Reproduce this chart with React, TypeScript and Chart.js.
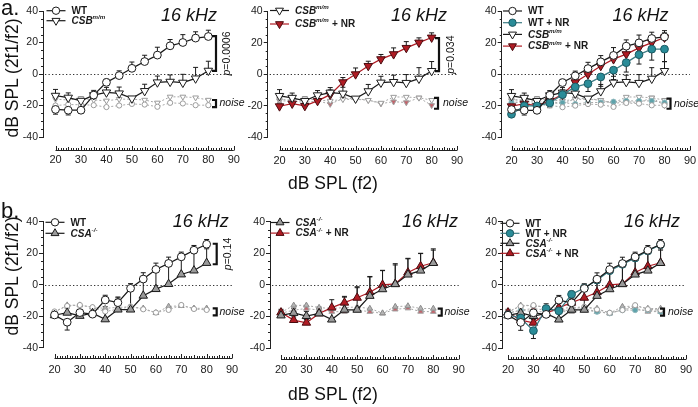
import React, { useEffect, useRef } from 'react';
import { Chart, registerables } from 'chart.js';
Chart.register(...registerables);

const FONT = '"Liberation Sans", Arial, Helvetica, sans-serif';

// ---------- data ----------
const levels = [20, 25, 30, 35, 40, 45, 50, 55, 60, 65, 70, 75, 80];
const yTicks = [-40, -20, 0, 20, 40];
const xTicks = [20, 30, 40, 50, 60, 70, 80, 90];

// panel row a (CSB)
const wtA = [-22.5, -23, -23, -13.4, -5.3, -1, 3.6, 7.9, 12, 17.9, 20, 22.8, 23.8];
const wtAErr = [-3, -3, -2, 2, 2, 3, 4, 4, 5, 4, 5, 4, 4];
const csbA = [-13.8, -15, -17, -13.4, -11.7, -12.3, -15.5, -10.8, -5.3, -4.9, -5.5, -2.8, 2.1];
const csbAErr = [4, 3, 2.5, 3, 3.2, 4, 1, 4.3, 4, 4.3, 5.3, 7, 6];
const csbNrA = [-20.4, -18.7, -20.2, -17, -13, -5.1, 0, 5.3, 9.6, 12.8, 16.8, 20.2, 23.4];
const csbNrAErr = [2, 3, 2, 3, 3, 3, 4, 3, 3, 4, 4, 3, 3];
const wtNrA = [-25.5, -20.2, -20.2, -18.3, -13, -8.1, -6, -1.7, 2.6, 7.4, 12.5, 16, 16];
const wtNrAErr = [-2, -3, -3, -3, -3, -4, -5, -6, -6, -6, -6, -7, -8];

const wtNoiseA = [-20, -19.4, -19.5, -19.8, -21, -20, -19, -19.4, -20.8, -18.3, -18.7, -19.8, -19.8];
const csbNoiseA = [-16, -16.5, -15.5, -16.5, -17, -16, -16, -16.5, -18.3, -14.5, -14.5, -15, -16.5];
const csbNrNoiseA = [-17, -17, -18, -17, -19, -15.5, -15.5, -16.5, -18.7, -17.5, -18, -15, -19.8];
const wtNrNoiseA = [-18, -18, -19, -19, -18, -19, -18, -18, -17.5, -17, -17, -17, -18];

// panel row b (CSA)
const wtB = [-19.2, -23.8, -17.7, -18.7, -9.7, -11.4, -2.3, 3.6, 9.7, 13.5, 17.7, 21.9, 25.7];
const wtBErr = [2, -5, 2, 2, 3, 3, 3, 4, 4, 4, 3, 3, 3];
const csaB = [-19.4, -17.8, -19.8, -18.1, -22, -15.8, -15.8, -7, -2.8, 0.4, 6.5, 9, 13.8];
const csaBErr = [3, 3, 3, 4, 8, 8, 14, 12, 12, 13, 10, 11, 9];
const csaNrB = [-17.5, -22.3, -24, -18.1, -14.4, -11.3, -8.2, -4.7, 0, 0.6, 7.8, 11.8, 14];
const csaNrBErr = [2, 2, 2, 3, 5, 4, 7, 10, 9, 12, 9, 8, 8];
const wtNrB = [-19, -21, -29, -15, -16.5, -6, -2, 3, 9, 13, 17, 21.5, 25.5];
const wtNrBErr = [1, -2, -5, 3, 3, 2, 2, 2, 2, 2, 2, 2, 2];

const wtNoiseB = [-17, -13.5, -12.9, -14.3, -17, -15.6, -13.9, -15.6, -17.7, -16, -12.9, -15.4, -16];
const csaNoiseB = [-17.5, -13, -13, -14.4, -15, -14.4, -14, -15, -17.9, -13.8, -13.4, -15, -15];
const csaNrNoiseB = [-18, -16, -15, -16, -17, -17, -16, -17, -18.1, -15.5, -14.8, -16.9, -17];
const wtNrNoiseB = [-18, -16, -17, -17, -16, -16, -15, -17, -18, -16, -16, -16, -17];

// ---------- styles ----------
type Part = { t: string; i?: boolean; sup?: boolean };
const STY: any = {
  wt: { shape: 'circle', fill: '#ffffff', stroke: '#1a1a1a', line: '#1a1a1a', label: [{ t: 'WT' }] },
  wtNr: { shape: 'circle', fill: '#2a8c98', stroke: '#1d5a62', line: '#3d7c84', label: [{ t: 'WT + NR' }] },
  csb: { shape: 'triDown', fill: '#ffffff', stroke: '#1a1a1a', line: '#1a1a1a', label: [{ t: 'CSB', i: true }, { t: 'm/m', i: true, sup: true }] },
  csbNr: { shape: 'triDown', fill: '#b01c24', stroke: '#4a0c10', line: '#b01c24', label: [{ t: 'CSB', i: true }, { t: 'm/m', i: true, sup: true }, { t: ' + NR' }] },
  csa: { shape: 'triUp', fill: '#9a9a9a', stroke: '#1a1a1a', line: '#1a1a1a', label: [{ t: 'CSA', i: true }, { t: '-/-', i: true, sup: true }] },
  csaNr: { shape: 'triUp', fill: '#b01c24', stroke: '#4a0c10', line: '#b01c24', label: [{ t: 'CSA', i: true }, { t: '-/-', i: true, sup: true }, { t: ' + NR' }] },
};
const NOISE: any = {
  wt: { shape: 'circle', fill: '#ffffff', stroke: '#9b9b9b' },
  wtNr: { shape: 'circle', fill: '#5fa3ab', stroke: '#8fb7bc' },
  csb: { shape: 'triDown', fill: '#ffffff', stroke: '#9b9b9b' },
  csbNr: { shape: 'triDown', fill: '#c4636b', stroke: '#a0a0a0' },
  csa: { shape: 'triUp', fill: '#b5b5b5', stroke: '#8c8c8c' },
  csaNr: { shape: 'triUp', fill: '#c4636b', stroke: '#a0a0a0' },
};

const PANELS: any[] = [
  {
    id: 'a1', canvas: [15, 0, 230, 180], axisX: 43, top: 11, bottom: 137, x20: 55.5, x90: 233.8, xGap: 12.5, labelPad: 16.4,
    series: [{ k: 'wt', v: wtA, e: wtAErr }, { k: 'csb', v: csbA, e: csbAErr }],
    noise: [{ k: 'wt', v: wtNoiseA }, { k: 'csb', v: csbNoiseA }],
    legend: { x: 46.5, y: 10.7, dy: 10 }, kHz: [189, 15.5],
    p: { x: 216, from: 24, to: 2, text: '0.0006', tx: 227.5 },
    nz: { x: 216, from: -16.5, to: -21, tx: 219.5 },
  },
  {
    id: 'a2', canvas: [240, 0, 230, 180], axisX: 267.7, top: 11.5, bottom: 137, x20: 279.5, x90: 457, xGap: 13, labelPad: 17,
    series: [{ k: 'csb', v: csbA, e: csbAErr }, { k: 'csbNr', v: csbNrA, e: csbNrAErr }],
    noise: [{ k: 'csb', v: csbNoiseA }, { k: 'csbNr', v: csbNrNoiseA }],
    legend: { x: 270, y: 10.5, dy: 13.5 }, kHz: [419, 15.5],
    p: { x: 439, from: 23, to: 2, text: '0.034', tx: 451.5 },
    nz: { x: 438, from: -15, to: -22, tx: 443 },
  },
  {
    id: 'a3', canvas: [470, 0, 228, 180], axisX: 501.7, top: 11.5, bottom: 137, x20: 511.5, x90: 690, xGap: 13, labelPad: 17,
    series: [{ k: 'wt', v: wtA, e: wtAErr }, { k: 'wtNr', v: wtNrA, e: wtNrAErr }, { k: 'csb', v: csbA, e: csbAErr }, { k: 'csbNr', v: csbNrA, e: csbNrAErr }],
    noise: [{ k: 'wt', v: wtNoiseA }, { k: 'wtNr', v: wtNrNoiseA }, { k: 'csb', v: csbNoiseA }, { k: 'csbNr', v: csbNrNoiseA }],
    legend: { x: 503, y: 11, dy: 11.7 }, kHz: [640.5, 15.5],
    nz: { x: 670.5, from: -15.5, to: -22, tx: 674 },
  },
  {
    id: 'b1', canvas: [15, 200, 230, 185], axisX: 43, top: 221.7, bottom: 347.7, x20: 54.5, x90: 232, xGap: 10.5, labelPad: 15.7,
    series: [{ k: 'wt', v: wtB, e: wtBErr }, { k: 'csa', v: csaB, e: csaBErr }],
    noise: [{ k: 'wt', v: wtNoiseB }, { k: 'csa', v: csaNoiseB }],
    legend: { x: 45.5, y: 222.3, dy: 11 }, kHz: [200.7, 221.5],
    p: { x: 216.7, from: 26, to: 13, text: '0.14', tx: 228 },
    nz: { x: 216.7, from: -15, to: -19.5, tx: 219.5 },
  },
  {
    id: 'b2', canvas: [240, 200, 230, 185], axisX: 270, top: 221.7, bottom: 348, x20: 281, x90: 458.7, xGap: 11, labelPad: 15.7,
    series: [{ k: 'csa', v: csaB, e: csaBErr }, { k: 'csaNr', v: csaNrB, e: csaNrBErr }],
    noise: [{ k: 'csa', v: csaNoiseB }, { k: 'csaNr', v: csaNrNoiseB }],
    legend: { x: 270.5, y: 222.5, dy: 10.6 }, kHz: [430, 221.5],
    nz: { x: 441.7, from: -15, to: -19.5, tx: 444.5 },
  },
  {
    id: 'b3', canvas: [470, 200, 228, 185], axisX: 502, top: 221.7, bottom: 348, x20: 508, x90: 686, xGap: 11, labelPad: 15.7,
    series: [{ k: 'wt', v: wtB, e: wtBErr }, { k: 'wtNr', v: wtNrB, e: wtNrBErr }, { k: 'csa', v: csaB, e: csaBErr }, { k: 'csaNr', v: csaNrB, e: csaNrBErr }],
    noise: [{ k: 'wt', v: wtNoiseB }, { k: 'wtNr', v: wtNrNoiseB }, { k: 'csa', v: csaNoiseB }, { k: 'csaNr', v: csaNrNoiseB }],
    legend: { x: 500.5, y: 223.3, dy: 10 }, kHz: [652, 221.5],
    nz: { x: 664, from: -15, to: -19.5, tx: 668 },
  },
];

// ---------- drawing helpers ----------
function drawMarker(ctx: CanvasRenderingContext2D, shape: string, x: number, y: number, r: number, fill: string, stroke: string) {
  ctx.beginPath();
  if (shape === 'circle') {
    ctx.arc(x, y, r, 0, Math.PI * 2);
  } else {
    const dir = shape === 'triDown' ? 1 : -1;
    const R = r;
    ctx.moveTo(x, y + dir * R);
    ctx.lineTo(x + R * Math.sin(Math.PI * 2 / 3), y - dir * R / 2);
    ctx.lineTo(x - R * Math.sin(Math.PI * 2 / 3), y - dir * R / 2);
    ctx.closePath();
  }
  ctx.fillStyle = fill;
  ctx.fill();
  ctx.lineWidth = 1;
  ctx.strokeStyle = stroke;
  ctx.stroke();
}

function drawRich(ctx: CanvasRenderingContext2D, parts: Part[], x: number, y: number, size: number) {
  let cx = x;
  ctx.textBaseline = 'middle';
  ctx.textAlign = 'left';
  ctx.fillStyle = '#1a1a1a';
  for (const p of parts) {
    const fs = p.sup ? size * 0.62 : size;
    ctx.font = `${p.i ? 'italic ' : ''}bold ${fs}px ${FONT}`;
    ctx.fillText(p.t, cx, p.sup ? y - size * 0.38 : y);
    cx += ctx.measureText(p.t).width + (p.sup ? 0.5 : 0);
  }
}

function bracket(ctx: CanvasRenderingContext2D, x: number, y1: number, y2: number) {
  ctx.save();
  ctx.strokeStyle = '#111';
  ctx.lineWidth = 2.2;
  ctx.beginPath();
  ctx.moveTo(x - 4, y1);
  ctx.lineTo(x, y1);
  ctx.lineTo(x, y2);
  ctx.lineTo(x - 4, y2);
  ctx.stroke();
  ctx.restore();
}

function makePlugin(cfg: any) {
  const CL = cfg.canvas[0];
  const CT = cfg.canvas[1];
  const X = (v: number) => v - CL;
  const Y = (v: number) => v - CT;
  return {
    id: 'deco_' + cfg.id,
    beforeDatasetsDraw(chart: any) {
      const ctx = chart.ctx as CanvasRenderingContext2D;
      const xs = chart.scales.x;
      const ys = chart.scales.y;
      const ca = chart.chartArea;
      ctx.save();
      // zero reference line
      ctx.strokeStyle = '#333';
      ctx.lineWidth = 1;
      ctx.setLineDash([1.3, 2.2]);
      const y0 = Math.round(ys.getPixelForValue(0)) + 0.5;
      ctx.beginPath();
      ctx.moveTo(ca.left + 2, y0);
      ctx.lineTo(xs.getPixelForValue(90), y0);
      ctx.stroke();
      ctx.setLineDash([]);
      // error bars
      chart.data.datasets.forEach((ds: any, di: number) => {
        if (!ds.errs) return;
        const meta = chart.getDatasetMeta(di);
        ctx.strokeStyle = ds.errColor;
        ctx.lineWidth = 1;
        meta.data.forEach((el: any, i: number) => {
          const e = ds.errs[i];
          if (!e) return;
          const yy = ys.getPixelForValue(ds.data[i].y + e);
          ctx.beginPath();
          ctx.moveTo(el.x, el.y);
          ctx.lineTo(el.x, yy);
          ctx.moveTo(el.x - 2.5, yy);
          ctx.lineTo(el.x + 2.5, yy);
          ctx.stroke();
        });
      });
      ctx.restore();
    },
    afterDraw(chart: any) {
      const ctx = chart.ctx as CanvasRenderingContext2D;
      const xs = chart.scales.x;
      const ys = chart.scales.y;
      const ca = chart.chartArea;
      ctx.save();
      ctx.strokeStyle = '#222';
      ctx.lineWidth = 1;
      // minor y ticks
      ctx.beginPath();
      for (let v = -40; v <= 40; v += 5) {
        if (v % 20 === 0) continue;
        const yy = Math.round(ys.getPixelForValue(v)) + 0.5;
        ctx.moveTo(ca.left - 2, yy);
        ctx.lineTo(ca.left, yy);
      }
      ctx.stroke();
      // detached x axis
      const yl = Math.round(ca.bottom + cfg.xGap) + 0.5;
      ctx.beginPath();
      ctx.moveTo(xs.getPixelForValue(20), yl);
      ctx.lineTo(xs.getPixelForValue(90), yl);
      for (let v = 20; v <= 90; v += 1) {
        const xx = Math.round(xs.getPixelForValue(v)) + 0.5;
        const len = v % 10 === 0 ? 4.5 : v % 5 === 0 ? 3.5 : 2.5;
        ctx.moveTo(xx, yl);
        ctx.lineTo(xx, yl - len);
      }
      ctx.stroke();

      // legend
      const lg = cfg.legend;
      cfg.series.forEach((s: any, i: number) => {
        const st = STY[s.k];
        const ly = Y(lg.y + i * lg.dy);
        const lx = X(lg.x);
        ctx.strokeStyle = st.line;
        ctx.lineWidth = 1.2;
        ctx.beginPath();
        ctx.moveTo(lx, ly);
        ctx.lineTo(lx + 19, ly);
        ctx.stroke();
        drawMarker(ctx, st.shape, lx + 9.5, ly, st.shape === 'circle' ? 3.7 : 4.6, st.fill, st.stroke);
        drawRich(ctx, st.label, lx + 25, ly + 0.5, 10);
      });

      // 16 kHz
      ctx.fillStyle = '#111';
      ctx.font = `italic 18px ${FONT}`;
      ctx.textAlign = 'center';
      ctx.textBaseline = 'middle';
      ctx.fillText('16 kHz', X(cfg.kHz[0]), Y(cfg.kHz[1]));

      // p-value bracket
      if (cfg.p) {
        const p = cfg.p;
        const y1 = ys.getPixelForValue(p.from);
        const y2 = ys.getPixelForValue(p.to);
        bracket(ctx, X(p.x), y1, y2);
        ctx.save();
        ctx.translate(X(p.tx), (y1 + y2) / 2);
        ctx.rotate(-Math.PI / 2);
        ctx.fillStyle = '#111';
        ctx.textBaseline = 'middle';
        ctx.font = `italic 10.5px ${FONT}`;
        const w1 = ctx.measureText('p').width;
        ctx.font = `10.5px ${FONT}`;
        const t2 = '=' + p.text;
        const w2 = ctx.measureText(t2).width;
        const start = -(w1 + w2) / 2;
        ctx.textAlign = 'left';
        ctx.font = `italic 10.5px ${FONT}`;
        ctx.fillText('p', start, 0);
        ctx.font = `10.5px ${FONT}`;
        ctx.fillText(t2, start + w1, 0);
        ctx.restore();
      }
      // noise bracket
      if (cfg.nz) {
        const n = cfg.nz;
        const y1 = ys.getPixelForValue(n.from);
        const y2 = ys.getPixelForValue(n.to);
        bracket(ctx, X(n.x), y1, y2);
        ctx.fillStyle = '#111';
        ctx.font = `italic 10.5px ${FONT}`;
        ctx.textAlign = 'left';
        ctx.textBaseline = 'middle';
        ctx.fillText('noise', X(n.tx), (y1 + y2) / 2);
      }
      ctx.restore();
    },
  };
}

function buildConfig(cfg: any) {
  const [CL, CT, CW, CH] = cfg.canvas;
  const yW = 20;
  const xH = 35;
  const ppu = (cfg.x90 - cfg.x20) / 70;
  const xmin = 20 - (cfg.x20 - cfg.axisX) / ppu;
  const datasets: any[] = [];
  cfg.series.forEach((s: any, i: number) => {
    const st = STY[s.k];
    datasets.push({
      data: levels.map((x, j) => ({ x, y: s.v[j] })),
      borderColor: st.line,
      borderWidth: 1.25,
      backgroundColor: st.fill,
      pointStyle: st.shape === 'circle' ? 'circle' : 'triangle',
      rotation: st.shape === 'triDown' ? 180 : 0,
      pointRadius: st.shape === 'circle' ? 3.9 : 4.9,
      pointBackgroundColor: st.fill,
      pointBorderColor: st.stroke,
      pointBorderWidth: 1,
      errs: s.e,
      errColor: '#1a1a1a',
      order: i,
      tension: 0,
    });
  });
  cfg.noise.forEach((s: any, i: number) => {
    const st = NOISE[s.k];
    datasets.push({
      data: levels.map((x, j) => ({ x, y: s.v[j] })),
      borderColor: '#a8a8a8',
      borderWidth: 1,
      borderDash: [2, 2],
      backgroundColor: st.fill,
      pointStyle: st.shape === 'circle' ? 'circle' : 'triangle',
      rotation: st.shape === 'triDown' ? 180 : 0,
      pointRadius: st.shape === 'circle' ? 2.6 : 3.3,
      pointBackgroundColor: st.fill,
      pointBorderColor: st.stroke,
      pointBorderWidth: 1,
      order: 20 + i,
      tension: 0,
    });
  });
  return {
    type: 'line',
    data: { datasets },
    plugins: [makePlugin(cfg)],
    options: {
      animation: false,
      responsive: false,
      maintainAspectRatio: false,
      events: [],
      layout: {
        autoPadding: false,
        padding: {
          left: cfg.axisX - CL - yW,
          right: CL + CW - cfg.x90,
          top: cfg.top - CT,
          bottom: CT + CH - cfg.bottom - xH,
        },
      },
      scales: {
        x: {
          type: 'linear',
          min: xmin,
          max: 90,
          afterFit: (s: any) => { s.height = xH; },
          afterBuildTicks: (s: any) => { s.ticks = xTicks.map((v) => ({ value: v })); },
          border: { display: false },
          grid: { display: false, drawTicks: true, tickLength: cfg.labelPad },
          ticks: { font: { family: FONT, size: 11 }, color: '#222', padding: 0, maxRotation: 0, autoSkip: false },
        },
        y: {
          type: 'linear',
          min: -40,
          max: 40,
          afterFit: (s: any) => { s.width = yW; },
          afterBuildTicks: (s: any) => { s.ticks = yTicks.map((v) => ({ value: v })); },
          border: { display: true, color: '#222', width: 1 },
          grid: { display: true, drawOnChartArea: false, drawTicks: true, tickLength: 4, color: '#222' },
          ticks: { font: { family: FONT, size: 10.5 }, color: '#222', padding: 1 },
        },
      },
      plugins: { legend: { display: false }, tooltip: { enabled: false } },
    },
  };
}

function Panel({ cfg }: { cfg: any }) {
  const ref = useRef<HTMLCanvasElement>(null);
  useEffect(() => {
    const chart = new Chart(ref.current as HTMLCanvasElement, buildConfig(cfg) as any);
    return () => chart.destroy();
  }, [cfg]);
  const [CL, CT, CW, CH] = cfg.canvas;
  return (
    <canvas
      ref={ref}
      width={CW}
      height={CH}
      style={{ position: 'absolute', left: CL, top: CT, width: CW, height: CH }}
    />
  );
}

const txt = (extra: any): any => ({
  position: 'absolute',
  fontFamily: FONT,
  color: '#111',
  whiteSpace: 'nowrap',
  lineHeight: 1,
  ...extra,
});

export default function App() {
  return (
    <div style={{ position: 'fixed', left: 0, top: 0, width: 698, height: 407, background: '#fff', overflow: 'hidden' }}>
      {PANELS.map((p) => (
        <Panel key={p.id} cfg={p} />
      ))}
      <div style={txt({ left: 1, top: -3.5, fontSize: 22 })}>a.</div>
      <div style={txt({ left: 1, top: 199.5, fontSize: 22 })}>b.</div>
      <div style={txt({ left: 13, top: 78, fontSize: 17.5, transform: 'translate(-50%, -50%) rotate(-90deg)' })}>dB SPL (2f1/f2)</div>
      <div style={txt({ left: 13, top: 276, fontSize: 17.5, transform: 'translate(-50%, -50%) rotate(-90deg)' })}>dB SPL (2f1/f2)</div>
      <div style={txt({ left: 333, top: 184, fontSize: 17.5, transform: 'translate(-50%, -50%)' })}>dB SPL (f2)</div>
      <div style={txt({ left: 333, top: 395, fontSize: 17.5, transform: 'translate(-50%, -50%)' })}>dB SPL (f2)</div>
    </div>
  );
}
